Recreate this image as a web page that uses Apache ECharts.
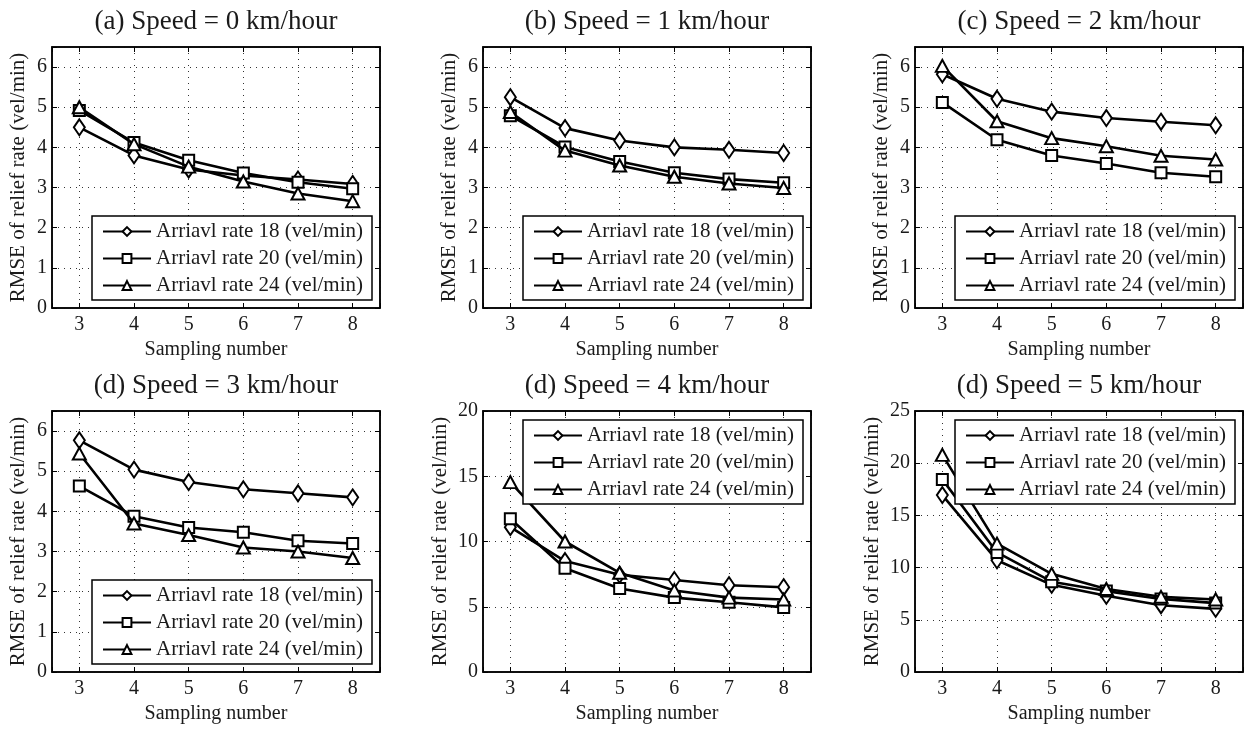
<!DOCTYPE html>
<html>
<head>
<meta charset="utf-8">
<script src="https://cdn.jsdelivr.net/npm/echarts@6/dist/echarts.min.js"></script>
<style>
  html, body { margin: 0; padding: 0; background: #fff; }
  #main { width: 1250px; height: 729px; }
</style>
</head>
<body>
<div id="main"></div>
<script>
// RMSE of relief rate vs sampling number, 6 speeds x 3 arrival rates

var sampling = [3, 4, 5, 6, 7, 8];
var rateNames = ['Arriavl rate 18 (vel/min)', 'Arriavl rate 20 (vel/min)', 'Arriavl rate 24 (vel/min)'];
var panelTitles = [
  '(a) Speed = 0 km/hour', '(b) Speed = 1 km/hour', '(c) Speed = 2 km/hour',
  '(d) Speed = 3 km/hour', '(d) Speed = 4 km/hour', '(d) Speed = 5 km/hour'
];
var yMax = [6.5, 6.5, 6.5, 6.5, 20, 25];
var yStep = [1, 1, 1, 1, 5, 5];

// speed 0
var s0r18 = [4.50, 3.80, 3.45, 3.30, 3.20, 3.09];
var s0r20 = [4.92, 4.12, 3.68, 3.36, 3.13, 2.97];
var s0r24 = [5.00, 4.08, 3.52, 3.15, 2.85, 2.66];
// speed 1
var s1r18 = [5.25, 4.48, 4.17, 4.00, 3.94, 3.86];
var s1r20 = [4.79, 4.01, 3.65, 3.37, 3.21, 3.12];
var s1r24 = [4.88, 3.92, 3.55, 3.27, 3.10, 2.99];
// speed 2
var s2r18 = [5.82, 5.21, 4.89, 4.73, 4.64, 4.55];
var s2r20 = [5.12, 4.19, 3.80, 3.60, 3.37, 3.27];
var s2r24 = [6.03, 4.65, 4.23, 4.03, 3.79, 3.70];
// speed 3
var s3r18 = [5.77, 5.04, 4.73, 4.55, 4.45, 4.35];
var s3r20 = [4.63, 3.88, 3.60, 3.48, 3.27, 3.20];
var s3r24 = [5.44, 3.70, 3.41, 3.10, 3.00, 2.84];
// speed 4
var s4r18 = [11.1, 8.5, 7.45, 7.05, 6.65, 6.5];
var s4r20 = [11.75, 7.95, 6.4, 5.7, 5.35, 4.95];
var s4r24 = [14.55, 10.0, 7.6, 6.25, 5.7, 5.55];
// speed 5
var s5r18 = [16.95, 10.7, 8.35, 7.3, 6.4, 6.05];
var s5r20 = [18.45, 11.45, 8.65, 7.75, 7.0, 6.6];
var s5r24 = [20.8, 12.3, 9.4, 7.95, 7.2, 6.95];

var panelData = [
  [s0r18, s0r20, s0r24], [s1r18, s1r20, s1r24], [s2r18, s2r20, s2r24],
  [s3r18, s3r20, s3r24], [s4r18, s4r20, s4r24], [s5r18, s5r20, s5r24]
];

var FONT = 'Liberation Serif';
var TXT = '#1a1a1a';
var symbols = ['emptyDiamond', 'emptyRect', 'emptyTriangle'];
var symbolSizes = [[11, 16], 11, [13, 12]];

var gridLeft = [52, 483, 915];
var gridTop = [47, 411];
var gridW = 328, gridH = 261;
var legendTopRight = [false, false, false, false, true, true];

var chart = echarts.init(document.getElementById('main'));
window.addEventListener('resize', function () { chart.resize(); });

var option = { animation: false, title: [], legend: [], grid: [], xAxis: [], yAxis: [], series: [] };

panelTitles.forEach(function (t, i) {
  var col = i % 3, row = Math.floor(i / 3);
  var left = gridLeft[col], top = gridTop[row];
  var step = yStep[i];

  option.title.push({
    text: t, left: left + gridW / 2, top: top - 39, textAlign: 'center', padding: 0,
    textStyle: { fontFamily: FONT, fontSize: 27, fontWeight: 'normal', color: TXT }
  });

  option.grid.push({
    left: left, top: top, width: gridW, height: gridH,
    show: true, borderColor: '#000', borderWidth: 1.5, backgroundColor: '#fff'
  });

  // bottom x axis
  option.xAxis.push({
    gridIndex: i, type: 'value', min: 2.5, max: 8.5, position: 'bottom',
    name: 'Sampling number', nameLocation: 'middle', nameGap: 32,
    nameTextStyle: { fontFamily: FONT, fontSize: 20, color: TXT },
    axisLine: { show: true, onZero: false, lineStyle: { color: '#000', width: 1.5 } },
    axisTick: { inside: true, length: 5, lineStyle: { color: '#000' } },
    axisLabel: {
      margin: 7, fontFamily: FONT, fontSize: 20, color: TXT,
      formatter: function (v) { return v % 1 === 0 ? String(v) : ''; }
    },
    splitLine: { show: true, lineStyle: { type: [1, 5], color: '#333', width: 1 } }
  });
  // top x axis (ticks only)
  option.xAxis.push({
    gridIndex: i, type: 'value', min: 2.5, max: 8.5, position: 'top',
    axisLine: { show: true, onZero: false, lineStyle: { color: '#000', width: 1.5 } },
    axisTick: { inside: true, length: 5, lineStyle: { color: '#000' } },
    axisLabel: { show: false }, splitLine: { show: false }
  });

  // left y axis
  option.yAxis.push({
    gridIndex: i, type: 'value', min: 0, max: yMax[i], position: 'left',
    name: 'RMSE of relief rate (vel/min)', nameLocation: 'middle',
    nameGap: yMax[i] >= 10 ? 32 : 23,
    nameTextStyle: { fontFamily: FONT, fontSize: 21, color: TXT },
    axisLine: { show: true, onZero: false, lineStyle: { color: '#000', width: 1.5 } },
    axisTick: { inside: true, length: 5, lineStyle: { color: '#000' } },
    axisLabel: {
      margin: 5, fontFamily: FONT, fontSize: 20, color: TXT,
      formatter: function (v) { return v % step === 0 ? String(v) : ''; }
    },
    splitLine: { show: true, lineStyle: { type: [1, 5], color: '#333', width: 1 } }
  });
  // right y axis (ticks only)
  option.yAxis.push({
    gridIndex: i, type: 'value', min: 0, max: yMax[i], position: 'right',
    axisLine: { show: true, onZero: false, lineStyle: { color: '#000', width: 1.5 } },
    axisTick: { inside: true, length: 5, lineStyle: { color: '#000' } },
    axisLabel: { show: false }, splitLine: { show: false }
  });

  panelData[i].forEach(function (vals, k) {
    option.series.push({
      type: 'line', name: rateNames[k],
      xAxisIndex: 2 * i, yAxisIndex: 2 * i,
      data: sampling.map(function (x, j) { return [x, vals[j]]; }),
      symbol: symbols[k], symbolSize: symbolSizes[k],
      lineStyle: { color: '#000', width: 2.6 },
      itemStyle: { color: '#000', borderColor: '#000', borderWidth: 2.3 },
      z: 3 + k
    });
  });

  var legendLeft = left + gridW - 288;
  var legendTop = legendTopRight[i] ? top + 9 : top + gridH - 92;
  option.legend.push({
    data: rateNames, orient: 'vertical', left: legendLeft, top: legendTop,
    itemWidth: 48, itemHeight: 11, itemGap: 6, padding: [5, 9, 4, 10],
    borderColor: '#000', borderWidth: 1.5, backgroundColor: '#fff',
    selectedMode: false, z: 10,
    textStyle: { fontFamily: FONT, fontSize: 21, color: TXT }
  });
});

option && chart.setOption(option);
</script>
</body>
</html>
